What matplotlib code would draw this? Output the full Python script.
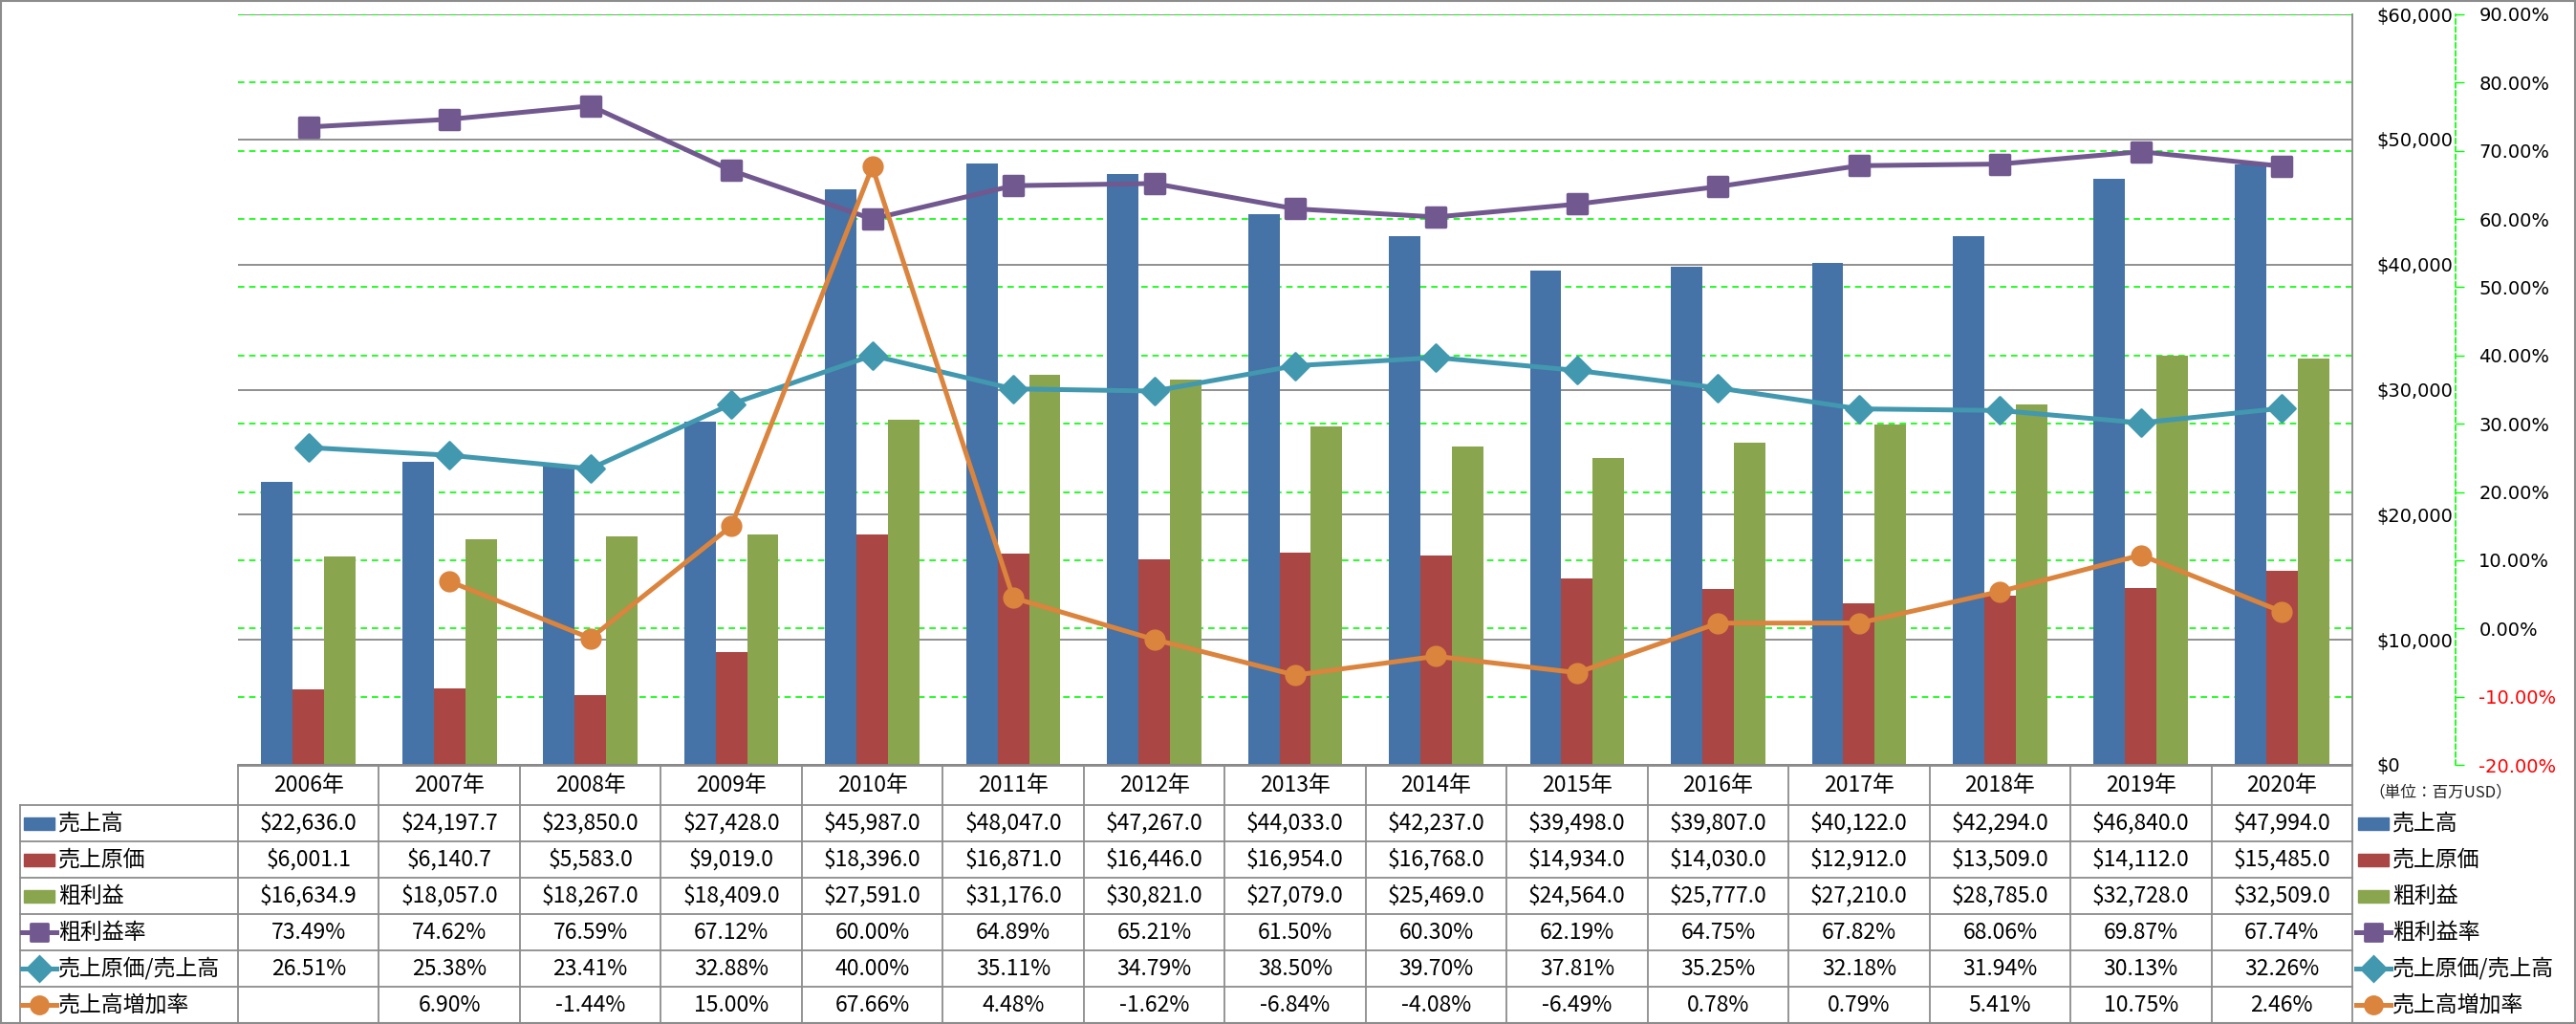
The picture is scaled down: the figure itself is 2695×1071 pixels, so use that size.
import matplotlib
matplotlib.use("Agg")
import matplotlib.pyplot as plt
import numpy as np
from matplotlib.lines import Line2D
from matplotlib.patches import Rectangle
from matplotlib.markers import MarkerStyle
from matplotlib.transforms import blended_transform_factory

# ── Datos (百万USD) ─────────────────────────────────────────────
years = ["2006年", "2007年", "2008年", "2009年", "2010年", "2011年", "2012年", "2013年",
         "2014年", "2015年", "2016年", "2017年", "2018年", "2019年", "2020年"]
sales = [22636.0, 24197.7, 23850.0, 27428.0, 45987.0, 48047.0, 47267.0, 44033.0,
         42237.0, 39498.0, 39807.0, 40122.0, 42294.0, 46840.0, 47994.0]
cogs = [6001.1, 6140.7, 5583.0, 9019.0, 18396.0, 16871.0, 16446.0, 16954.0,
        16768.0, 14934.0, 14030.0, 12912.0, 13509.0, 14112.0, 15485.0]
gross = [16634.9, 18057.0, 18267.0, 18409.0, 27591.0, 31176.0, 30821.0, 27079.0,
         25469.0, 24564.0, 25777.0, 27210.0, 28785.0, 32728.0, 32509.0]
gross_margin = [73.49, 74.62, 76.59, 67.12, 60.00, 64.89, 65.21, 61.50,
                60.30, 62.19, 64.75, 67.82, 68.06, 69.87, 67.74]
cogs_ratio = [26.51, 25.38, 23.41, 32.88, 40.00, 35.11, 34.79, 38.50,
              39.70, 37.81, 35.25, 32.18, 31.94, 30.13, 32.26]
growth = [np.nan, 6.90, -1.44, 15.00, 67.66, 4.48, -1.62, -6.84,
          -4.08, -6.49, 0.78, 0.79, 5.41, 10.75, 2.46]

money_ticks = [0, 10000, 20000, 30000, 40000, 50000, 60000]
pct_ticks = [-20, -10, 0, 10, 20, 30, 40, 50, 60, 70, 80, 90]

bar_names = ["売上高", "売上原価", "粗利益"]
line_names = ["粗利益率", "売上原価/売上高", "売上高増加率"]

C_BLUE, C_RED, C_GREEN = "#4572A7", "#AA4643", "#89A54E"
C_PURPLE, C_TEAL, C_ORANGE = "#71588F", "#4198AF", "#DB843D"
GRID_GRAY = "#878787"
LIME = "#00FF00"

JP = ["Noto Sans CJK JP", "DejaVu Sans"]

W, H = 2695, 1071
PL, PR, PT, PB = 249, 2461, 15, 800


def fx(x):
    return x / W


def fy(y):
    return 1 - y / H


fig = plt.figure(figsize=(W / 100, H / 100), dpi=100)
ax = fig.add_axes([fx(PL), fy(PB), (PR - PL) / W, (PB - PT) / H])
ax2 = ax.twinx()

x = np.arange(len(years))
bw = 0.223

# ── Ejes ─────────────────────────────────────────────────────────
ax.set_xlim(-0.5, len(years) - 0.5)
ax.set_ylim(0, 60000)
ax2.set_ylim(-20, 90)
ax.set_xticks([])

ax.set_axisbelow(True)
ax.yaxis.tick_right()
ax.set_yticks(money_ticks)
ax.set_yticklabels([f"${v:,.0f}" for v in money_ticks])
ax.tick_params(axis="y", length=0, pad=18, labelsize=14,
               labelfontfamily="DejaVu Sans", labelcolor="black")
ax.yaxis.grid(True, color=GRID_GRAY, lw=1.3)
for s in ["left", "top"]:
    ax.spines[s].set_visible(False)
for s in ["right", "bottom"]:
    ax.spines[s].set_color(GRID_GRAY)
    ax.spines[s].set_linewidth(1.3)

# rejilla secundaria (verde) debajo de las barras
tr = blended_transform_factory(ax.transAxes, ax2.transData)
for v in pct_ticks[1:]:
    ax.plot([0, 1], [v, v], transform=tr, color=LIME, lw=1.2,
            ls=(0, (4, 3)), zorder=0.6)

# el spine se mueve antes de fijar las etiquetas (set_position reinicia los ticks)
for s in ["left", "top", "bottom"]:
    ax2.spines[s].set_visible(False)
ax2.spines["right"].set_position(("outward", 108 * 72 / 100))
ax2.spines["right"].set_color(LIME)
ax2.spines["right"].set_linestyle((0, (3, 2)))
ax2.spines["right"].set_linewidth(1.2)

ax2.set_yticks(pct_ticks)
ax2.set_yticklabels([f"{v:.2f}%" for v in pct_ticks])
ax2.tick_params(axis="y", direction="out", length=6.5, width=1.0, color=LIME, pad=11,
                labelsize=14, labelfontfamily="DejaVu Sans")
for lbl, v in zip(ax2.get_yticklabels(), pct_ticks):
    lbl.set_color("red" if v < 0 else "black")

# ── Barras ───────────────────────────────────────────────────────
ax.bar(x - bw, sales, bw, color=C_BLUE, zorder=2)
ax.bar(x, cogs, bw, color=C_RED, zorder=2)
ax.bar(x + bw, gross, bw, color=C_GREEN, zorder=2)

# ── Lineas ───────────────────────────────────────────────────────
sq = MarkerStyle("s", joinstyle="round")
ax2.plot(x, gross_margin, color=C_PURPLE, lw=3.6, marker=sq, ms=14, mew=2.5, zorder=3)
ax2.plot(x, cogs_ratio, color=C_TEAL, lw=3.6, marker=MarkerStyle("D", joinstyle="round"),
         ms=14.5, mew=2, zorder=3)
ax2.plot(x, growth, color=C_ORANGE, lw=3.6, marker="o", ms=14.5, mew=1.5, zorder=3)

# ── Tabla de datos ───────────────────────────────────────────────
col_w = (PR - PL) / len(years)
row_top = [801, 842, 880, 918, 956, 994, 1032, 1070]
TAB_LEFT = 21
LINE_C = "#8c8c8c"


def hline(x0, x1, y):
    fig.add_artist(Line2D([fx(x0), fx(x1)], [fy(y), fy(y)], transform=fig.transFigure,
                          color=LINE_C, lw=1.3))


def vline(xp, y0, y1):
    fig.add_artist(Line2D([fx(xp), fx(xp)], [fy(y0), fy(y1)], transform=fig.transFigure,
                          color=LINE_C, lw=1.3))


hline(PL, PR, row_top[0])
for y in row_top[1:]:
    hline(TAB_LEFT, PR, y)
vline(TAB_LEFT, row_top[1], row_top[-1])
for i in range(len(years) + 1):
    vline(PL + i * col_w, row_top[0], row_top[-1])

fs = 16.5
hdr_y = (row_top[0] + row_top[1]) / 2
for i, yr in enumerate(years):
    fig.text(fx(PL + (i + 0.5) * col_w), fy(hdr_y), yr, ha="center", va="center",
             fontsize=fs, family=JP)

rows = [
    [f"${v:,.1f}" for v in sales],
    [f"${v:,.1f}" for v in cogs],
    [f"${v:,.1f}" for v in gross],
    [f"{v:.2f}%" for v in gross_margin],
    [f"{v:.2f}%" for v in cogs_ratio],
    ["" if np.isnan(v) else f"{v:.2f}%" for v in growth],
]
for r, vals in enumerate(rows):
    yc = (row_top[r + 1] + row_top[r + 2]) / 2
    for i, s in enumerate(vals):
        fig.text(fx(PL + (i + 0.5) * col_w), fy(yc), s, ha="center", va="center",
                 fontsize=fs, family=JP)

# claves de leyenda (en la tabla y a la derecha)
keys = [("bar", C_BLUE), ("bar", C_RED), ("bar", C_GREEN),
        ("line", C_PURPLE, sq), ("line", C_TEAL, "D"), ("line", C_ORANGE, "o")]
labels = bar_names + line_names


def draw_key(x0, yc, key):
    if key[0] == "bar":
        fig.add_artist(Rectangle((fx(x0 + 2), fy(yc + 6.5)), 32 / W, 13 / H,
                                 transform=fig.transFigure, color=key[1]))
    else:
        fig.add_artist(Line2D([fx(x0), fx(x0 + 36)], [fy(yc), fy(yc)],
                              transform=fig.transFigure, color=key[1], lw=3.6))
        fig.add_artist(Line2D([fx(x0 + 18)], [fy(yc)], transform=fig.transFigure,
                              color=key[1], marker=key[2], ms=13, mew=2))


for r, (key, lab) in enumerate(zip(keys, labels)):
    yc = (row_top[r + 1] + row_top[r + 2]) / 2
    draw_key(23, yc, key)
    fig.text(fx(61), fy(yc), lab, ha="left", va="center", fontsize=fs, family=JP)
    draw_key(2465, yc, key)
    fig.text(fx(2503), fy(yc), lab, ha="left", va="center", fontsize=fs, family=JP)

fig.text(fx(2478), fy(829), "（単位：百万USD）", ha="left", va="center",
         fontsize=12, family=JP, color="#222222")

# borde del area del grafico
fig.add_artist(Rectangle((0.0005, 0.0008), 0.999, 0.9985, transform=fig.transFigure,
                         fill=False, edgecolor=LINE_C, lw=1.5))

fig.savefig("out.png", dpi=100)
